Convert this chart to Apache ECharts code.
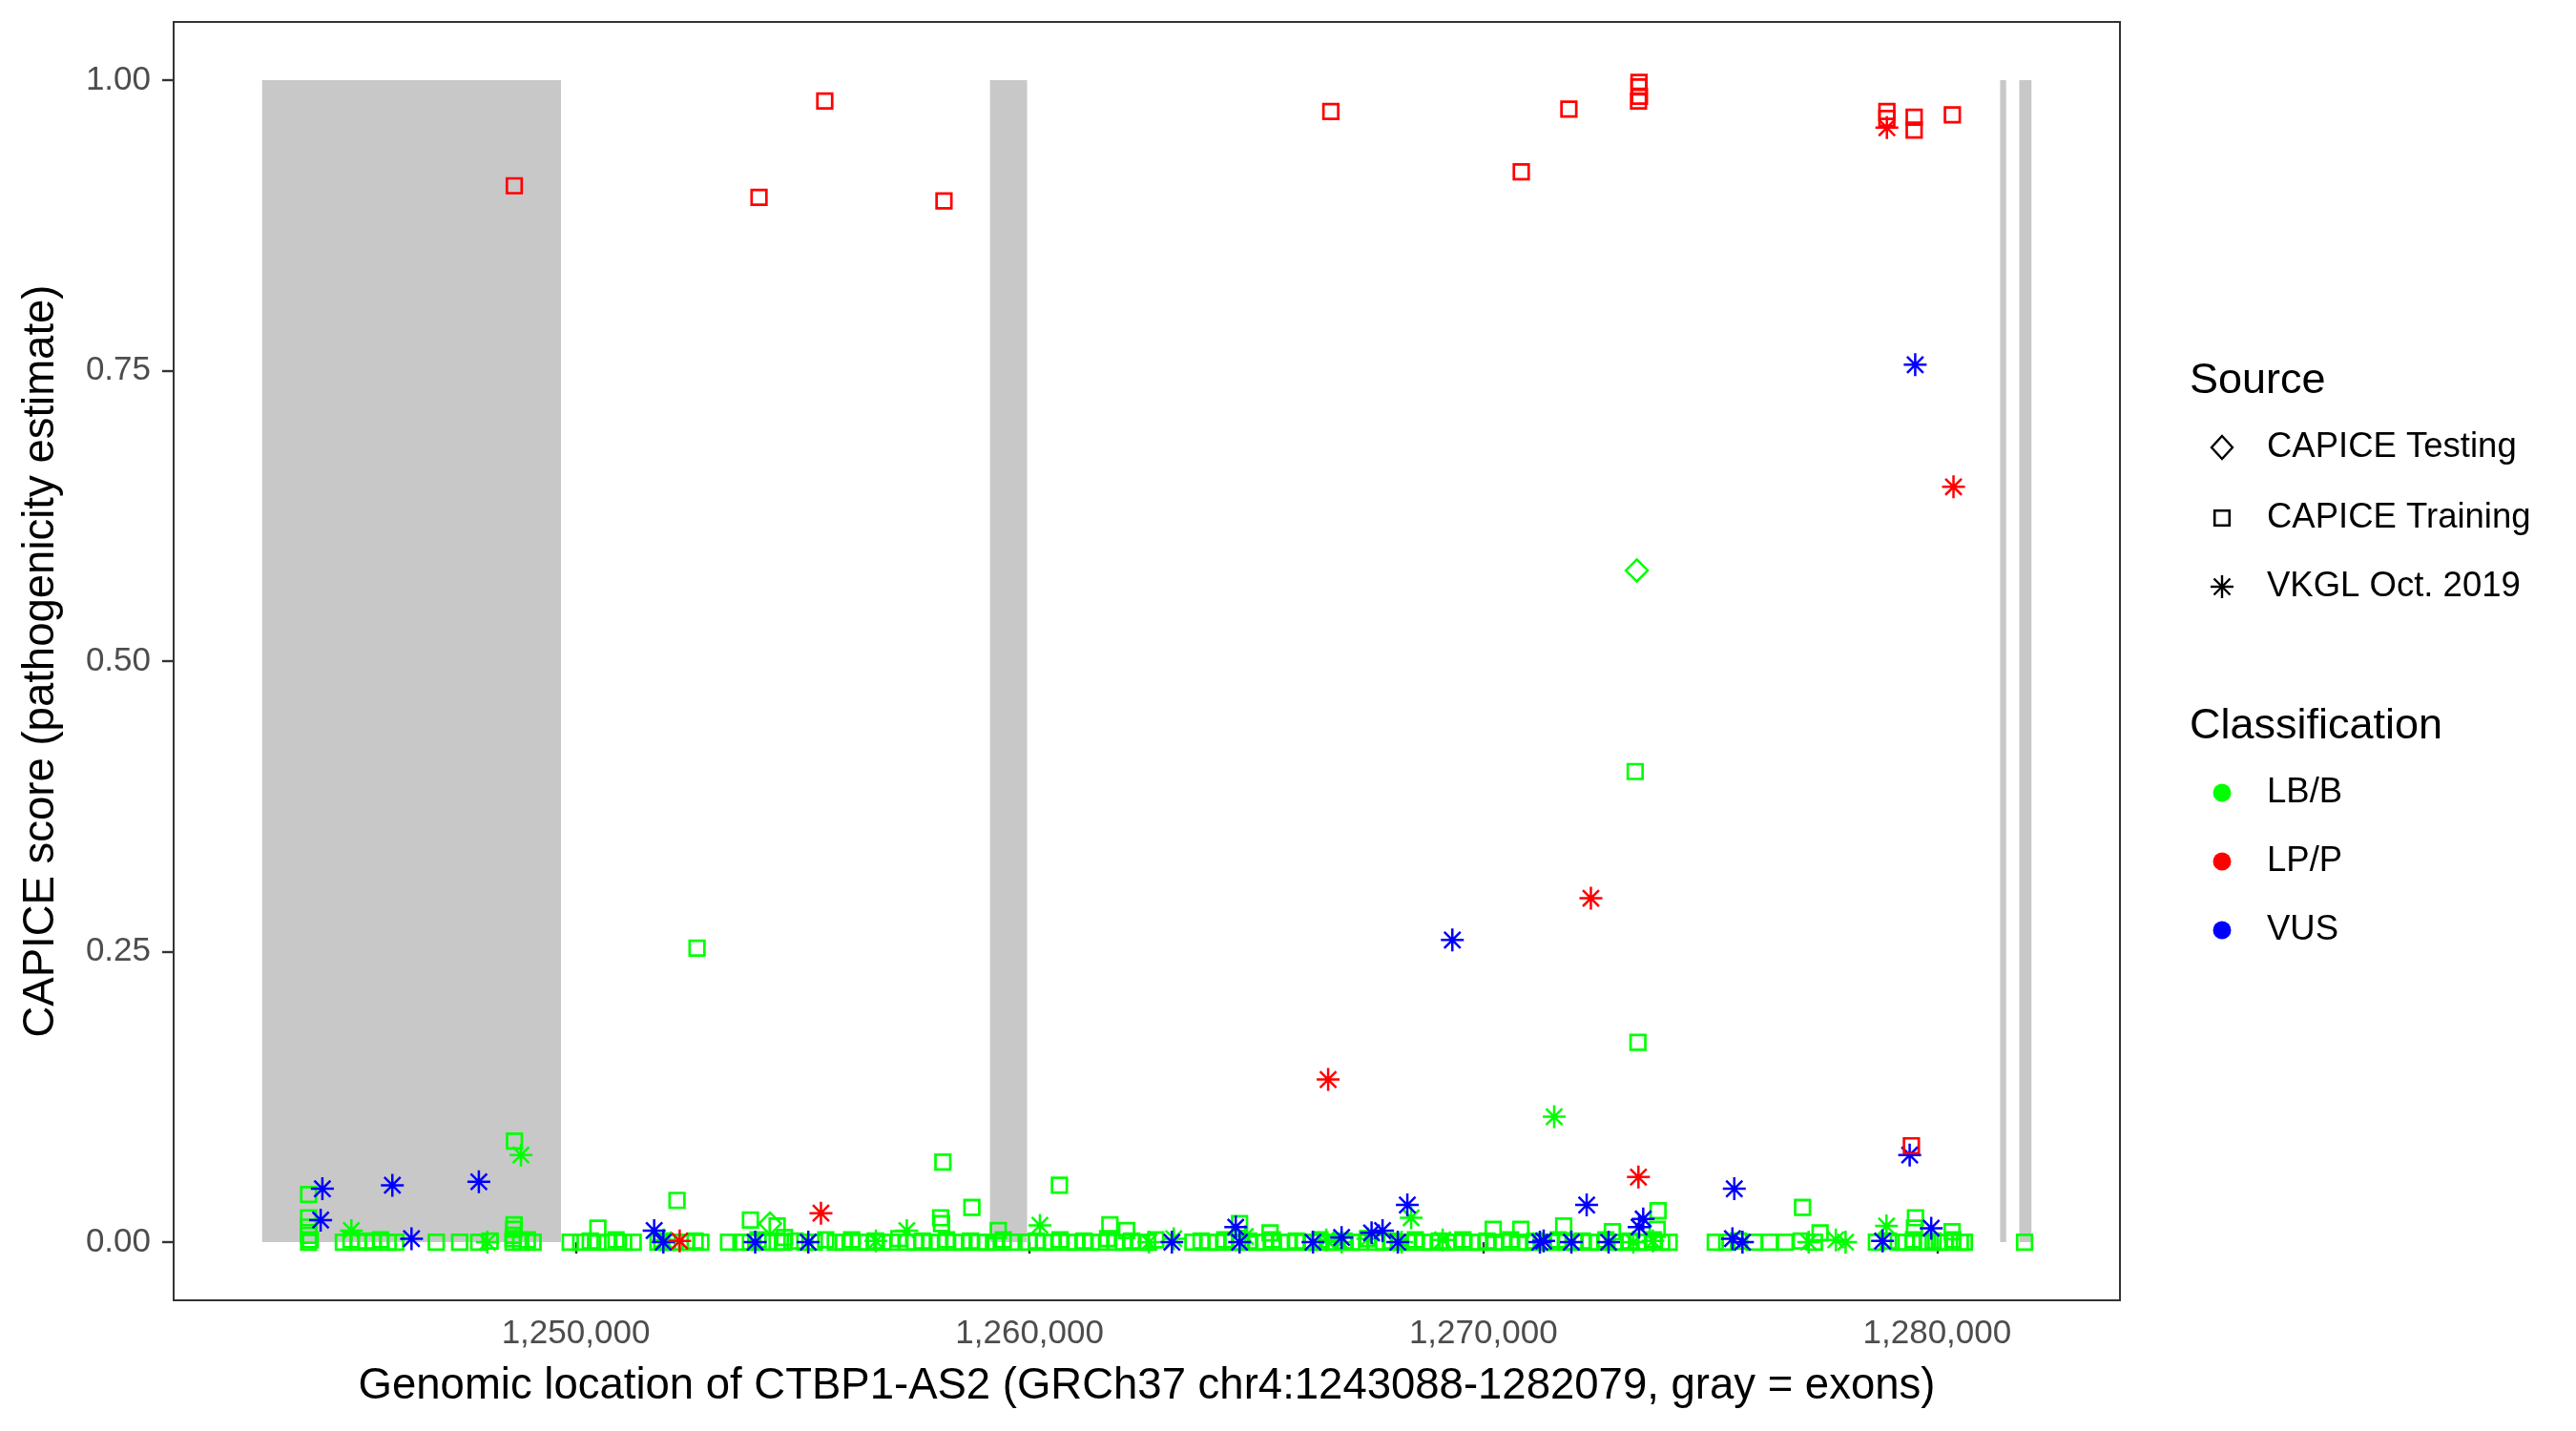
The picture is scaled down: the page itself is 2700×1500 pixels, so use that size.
<!DOCTYPE html>
<html><head><meta charset="utf-8">
<script src="https://cdn.jsdelivr.net/npm/echarts@6/dist/echarts.min.js"></script>
<style>html,body{margin:0;padding:0;background:#fff}#c{width:2700px;height:1500px}</style>
</head><body><div id="c"></div>
<script>
// ---- axes ----
const xMin = 1241138, xMax = 1284029;
const yMin = -0.05, yMax = 1.05;
const xTicks = [1250000, 1260000, 1270000, 1280000];
const yTicks = [0, 0.25, 0.5, 0.75, 1];
// exons (gray)
const exons = [[1243088, 1249674], [1259127, 1259946], [1281389, 1281521], [1281811, 1282079]];

// ---- data: [genomic position, CAPICE score] ----
const lbbTraining = [
 [1252672,0.253],[1273346,0.405],[1273407,0.172],[1258090,0.069],[1260658,0.049],[1244113,0.041],[1248649,0.087],
 [1252231,0.036],[1258729,0.030],[1277034,0.030],[1273850,0.027],[1279523,0.021],[1258040,0.021],[1258060,0.016],
 [1261770,0.015],[1253849,0.019],[1254437,0.014],[1264628,0.016],[1244113,0.021],[1244113,0.013],[1244113,0.006],
 [1248640,0.015],[1248630,0.011],[1248625,0.006],[1250487,0.012],[1259311,0.010],[1262138,0.010],[1265300,0.008],
 [1270217,0.011],[1270826,0.011],[1271771,0.014],[1272843,0.009],[1277421,0.008],[1279500,0.012],[1280330,0.009],
 [1273830,0.011],[1254600,0.004],
 [1244113,0],[1244150,0.002],[1244878,0],[1245046,0.002],[1245214,0],[1245382,0.001],[1245529,0],[1245697,0.002],
 [1245865,0],[1246033,0],[1246926,0],[1247441,0],[1247861,0],[1248113,0.001],[1248618,0.003],[1248618,0],
 [1248786,0],[1248933,0.002],[1249059,0],
 [1249878,0],[1250109,0],[1250319,0.001],[1250487,0],[1250697,0],[1250887,0.002],[1251055,0],[1251265,0],
 [1251810,0],[1251895,0.001],[1252021,0],[1252189,0],[1252441,0],[1252630,0.001],[1252756,0],[1253366,0],
 [1253639,0],[1253849,0],[1254017,0.002],[1254227,0],[1254437,0],[1254584,0],[1254836,0.001],[1255047,0],
 [1255257,0],[1255509,0.002],[1255719,0],
 [1255900,0],[1256080,0.002],[1256250,0],[1256420,0],[1256600,0.001],[1256770,0],[1256950,0],[1257120,0.003],
 [1257300,0],[1257470,0],[1257640,0.001],[1257820,0],[1258000,0],[1258170,0.002],[1258350,0],[1258520,0],
 [1258700,0.001],[1258880,0],[1259050,0],[1259250,0],[1259420,0.002],[1259600,0],[1259980,0],[1260150,0.001],
 [1260320,0],[1260500,0],[1260670,0.002],[1260850,0],[1261020,0],[1261200,0.001],[1261370,0],[1261550,0],
 [1261720,0.003],[1261900,0],[1262070,0],[1262250,0.001],[1262420,0],[1262600,0],[1262780,0.002],
 [1263600,0],[1263780,0.001],[1263950,0],[1264130,0],[1264300,0.002],[1264480,0],[1264650,0],[1264830,0.001],
 [1265000,0],[1265180,0],[1265350,0.002],[1265530,0],[1265700,0],[1265880,0.001],[1266050,0],[1266230,0],
 [1266400,0.002],[1266580,0],[1266750,0],[1266930,0.001],[1267100,0],[1267280,0],[1267450,0.003],[1267630,0],
 [1267800,0],[1267980,0.001],[1268150,0],[1268330,0],[1268500,0.002],[1268680,0],[1268850,0],[1269030,0.001],
 [1269200,0],[1269380,0],[1269550,0.002],[1269730,0],[1269900,0],[1270080,0.001],[1270250,0],[1270430,0],
 [1270600,0.002],[1270780,0],[1270950,0],[1271130,0.001],[1271300,0],[1271480,0],[1271650,0.002],[1271830,0],
 [1272000,0],[1272180,0.001],[1272350,0],[1272530,0],[1272700,0.002],[1272880,0],[1273050,0],[1273230,0.001],
 [1273400,0],[1273580,0],[1273750,0.002],[1273930,0],[1274094,0],
 [1275111,0],[1275364,0],[1275624,0.001],[1275972,0],[1276308,0],[1276653,0],[1277002,0.001],[1277295,0],
 [1278662,0],[1278927,0.001],[1279145,0],[1279313,0],[1279480,0.002],[1279649,0],[1279780,0],[1279912,0.001],
 [1280050,0],[1280170,0],[1280343,0.002],[1280511,0],[1280600,0],
 [1281927,0]
];
const lbbVkgl = [
 [1248792,0.075],[1271561,0.108],[1268410,0.021],[1245055,0.010],[1260228,0.0145],[1257295,0.010],[1278884,0.014],
 [1273305,0],[1277169,0],[1277768,0.002],[1277983,0],[1269103,0.002],[1263178,0.003],[1256614,0.001],[1262631,0],
 [1264753,0.005],[1266540,0.002],[1266876,0],[1267455,0.003],[1268200,0],[1248050,0],[1251937,0.002],[1273737,0.001]
];
const lbbTesting = [[1273382,0.578],[1254281,0.016]];
const lppTraining = [
 [1248645,0.909],[1254038,0.899],[1255487,0.982],[1258114,0.896],[1266639,0.973],[1270836,0.921],[1271885,0.975],
 [1273430,0.998],[1273430,0.994],[1273440,0.986],[1273420,0.982],[1278893,0.973],[1278893,0.967],[1279494,0.968],
 [1279494,0.957],[1280336,0.970],[1279433,0.083]
];
const lppVkgl = [
 [1278893,0.959],[1280361,0.650],[1272370,0.296],[1266580,0.140],[1273418,0.056],[1255403,0.025],[1252290,0.001]
];
const vusVkgl = [
 [1279517,0.755],[1269317,0.260],[1244416,0.046],[1245958,0.049],[1247864,0.052],[1244378,0.019],[1246380,0.003],
 [1251727,0.010],[1251929,0],[1253954,0],[1255124,0],[1263136,0],[1264544,0.013],[1264628,0],[1266246,0],
 [1266876,0.004],[1267537,0.008],[1267779,0.010],[1268115,0],[1268325,0.032],[1271246,0],[1271330,0.001],
 [1271940,0],[1272277,0.032],[1272760,0],[1273432,0.013],[1273523,0.020],[1275530,0.046],[1275489,0.003],
 [1275710,0],[1278798,0.001],[1279395,0.075],[1279870,0.012]
];

const sourceNames = ['CAPICE Testing', 'CAPICE Training', 'VKGL Oct. 2019'];
const classNames = ['LB/B', 'LP/P', 'VUS'];
const classColors = {'LB/B': '#00ff00', 'LP/P': '#ff0000', 'VUS': '#0000ff'};

const FONT = "'Liberation Sans', Arial, sans-serif";
const ASTER = 'path://M0,-1L0,1M-1,0L1,0M-0.707,-0.707L0.707,0.707M-0.707,0.707L0.707,-0.707';

function shapeOf(src) {
  if (src === 'CAPICE Training') return {symbol: 'rect', size: 15.5, bw: 2.7};
  if (src === 'CAPICE Testing') return {symbol: 'diamond', size: 23, bw: 2.5};
  return {symbol: ASTER, size: 24, bw: 2.5};
}
function mk(cls, src, data, z) {
  const s = shapeOf(src);
  return {
    type: 'scatter', name: cls + ' / ' + src, data: data, z: z,
    symbol: s.symbol, symbolSize: s.size, silent: true, animation: false,
    itemStyle: {color: 'rgba(0,0,0,0)', borderColor: classColors[cls], borderWidth: s.bw, opacity: 1}
  };
}

const series = [
  {
    type: 'scatter', name: 'exons', data: [], z: 1, silent: true, animation: false,
    markArea: {
      silent: true, animation: false,
      itemStyle: {color: '#c8c8c8', opacity: 1},
      data: exons.map(e => [{xAxis: e[0], yAxis: 0}, {xAxis: e[1], yAxis: 1}])
    }
  },
  mk('LB/B', 'CAPICE Training', lbbTraining, 2),
  mk('LB/B', 'VKGL Oct. 2019', lbbVkgl, 3),
  mk('LB/B', 'CAPICE Testing', lbbTesting, 3),
  mk('VUS', 'VKGL Oct. 2019', vusVkgl, 4),
  mk('LP/P', 'CAPICE Training', lppTraining, 5),
  mk('LP/P', 'VKGL Oct. 2019', lppVkgl, 5)
];

// ---- legend drawn as graphic ----
const LX = 2295, SX = 2329, TX = 2376;
const srcY = [469, 543, 615];
const clsY = [831, 903, 975];
const g = [];
g.push({type: 'text', x: LX, y: 400, style: {text: 'Source', fontSize: 45, fontFamily: FONT, fill: '#000', textVerticalAlign: 'middle', verticalAlign: 'middle'}});
g.push({type: 'text', x: LX, y: 762, style: {text: 'Classification', fontSize: 45, fontFamily: FONT, fill: '#000', textVerticalAlign: 'middle', verticalAlign: 'middle'}});
sourceNames.forEach((n, i) => {
  const y = srcY[i];
  if (n === 'CAPICE Testing') {
    g.push({type: 'polygon', shape: {points: [[SX, y - 12], [SX + 11, y], [SX, y + 12], [SX - 11, y]]}, style: {fill: 'none', stroke: '#000', lineWidth: 2.4}});
  } else if (n === 'CAPICE Training') {
    g.push({type: 'rect', shape: {x: SX - 7.8, y: y - 7.8, width: 15.6, height: 15.6}, style: {fill: 'none', stroke: '#000', lineWidth: 2.6}});
  } else {
    const r = 12, d = 8.5;
    [[0, -r, 0, r], [-r, 0, r, 0], [-d, -d, d, d], [-d, d, d, -d]].forEach(l => {
      g.push({type: 'line', shape: {x1: SX + l[0], y1: y + l[1], x2: SX + l[2], y2: y + l[3]}, style: {stroke: '#000', lineWidth: 2.4}});
    });
  }
  g.push({type: 'text', x: TX, y: y, style: {text: n, fontSize: 36.5, fontFamily: FONT, fill: '#000', textVerticalAlign: 'middle', verticalAlign: 'middle'}});
});
classNames.forEach((n, i) => {
  const y = clsY[i];
  g.push({type: 'circle', shape: {cx: SX, cy: y, r: 9.5}, style: {fill: classColors[n]}});
  g.push({type: 'text', x: TX, y: y, style: {text: n, fontSize: 36.5, fontFamily: FONT, fill: '#000', textVerticalAlign: 'middle', verticalAlign: 'middle'}});
});

const chart = echarts.init(document.getElementById('c'), null, {renderer: 'canvas'});
chart.setOption({
  backgroundColor: '#ffffff',
  animation: false,
  textStyle: {fontFamily: FONT},
  grid: {left: 182, right: 478, top: 23, bottom: 137, show: true, borderColor: '#333333', borderWidth: 2, backgroundColor: 'transparent', containLabel: false},
  xAxis: {
    type: 'value', min: xMin, max: xMax,
    name: 'Genomic location of CTBP1-AS2 (GRCh37 chr4:1243088-1282079, gray = exons)',
    nameLocation: 'middle', nameGap: 67,
    nameTextStyle: {fontSize: 45.5, color: '#000', fontFamily: FONT},
    axisLine: {show: false},
    splitLine: {show: false},
    axisTick: {show: true, length: 12, lineStyle: {color: '#333333', width: 2.4}, customValues: xTicks},
    axisLabel: {show: true, margin: 18, fontSize: 35, color: '#4d4d4d', fontFamily: FONT, customValues: xTicks,
      formatter: v => v.toLocaleString('en-US')}
  },
  yAxis: {
    type: 'value', min: yMin, max: yMax,
    name: 'CAPICE score (pathogenicity estimate)',
    nameLocation: 'middle', nameGap: 116, nameRotate: 90,
    nameTextStyle: {fontSize: 45.5, color: '#000', fontFamily: FONT},
    axisLine: {show: false},
    splitLine: {show: false},
    axisTick: {show: true, length: 12, lineStyle: {color: '#333333', width: 2.4}, customValues: yTicks},
    axisLabel: {show: true, margin: 24, fontSize: 35, color: '#4d4d4d', fontFamily: FONT, customValues: yTicks,
      formatter: v => v.toFixed(2)}
  },
  graphic: g,
  series: series
});
</script></body></html>
